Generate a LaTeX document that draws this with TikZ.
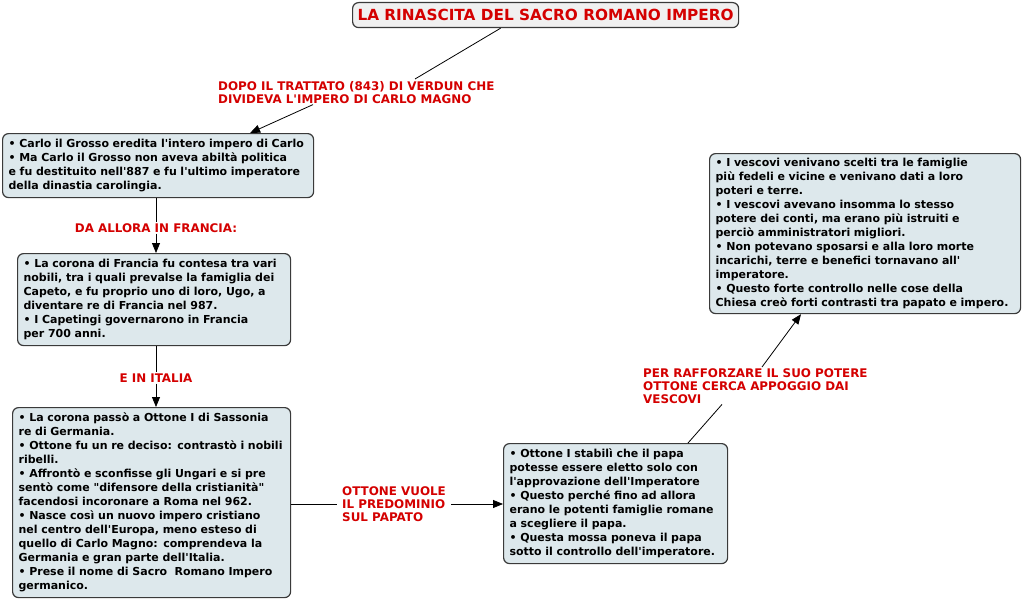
\documentclass[tikz,border=0pt]{standalone}
\usepackage{fontspec}
\setmainfont{DejaVu Sans}[Ligatures=TeXOff]
\usetikzlibrary{arrows.meta,calc}
\definecolor{boxfill}{HTML}{DDE8EC}
\definecolor{boxline}{HTML}{3A3A3A}
\definecolor{labred}{HTML}{D40000}
\tikzset{
  cbox/.style={draw=boxline, line width=1.2pt, fill=boxfill, rounded corners=6pt,
    anchor=north west, align=left, inner xsep=6pt, inner ysep=3pt,
    font=\bfseries\fontsize{11}{14}\selectfont},
  lab/.style={text=labred, align=left, inner sep=1pt,
    font=\bfseries\fontsize{11.9}{13}\selectfont},
  conn/.style={draw=black, line width=0.8pt},
  arr/.style={conn, -{Triangle[length=10pt,width=8pt]}}
}
\begin{document}
\begin{tikzpicture}[x=1pt,y=-1pt]
\useasboundingbox (0,0) rectangle (1024,599);
\fill[white] (0,0) rectangle (1024,599);

\node[draw=boxline, line width=1.2pt, fill=black!6, rounded corners=6pt, anchor=north west,
  minimum width=386pt, minimum height=25pt, text=labred,
  font=\bfseries\fontsize{15.3}{16}\selectfont] (title) at (352,2) {LA RINASCITA DEL SACRO ROMANO IMPERO};

\node[lab, anchor=north west] (l1) at (217,80) {DOPO IL TRATTATO (843) DI VERDUN CHE\\DIVIDEVA L'IMPERO DI CARLO MAGNO};

\node[cbox, text width=299pt, minimum height=64pt] (b1) at (2,133)
{• Carlo il Grosso eredita l'intero impero di Carlo\\
• Ma Carlo il Grosso non aveva abiltà politica\\
e fu destituito nell'887 e fu l'ultimo imperatore\\
della dinastia carolingia.};

\node[lab, anchor=center] (l2) at (156,228) {DA ALLORA IN FRANCIA:};

\node[cbox, text width=261pt, minimum height=92pt] (b2) at (17,253)
{• La corona di Francia fu contesa tra vari\\
nobili, tra i quali prevalse la famiglia dei\\
Capeto, e fu proprio uno di loro, Ugo, a\\
diventare re di Francia nel 987.\\
• I Capetingi governarono in Francia\\
per 700 anni.};

\node[lab, anchor=center] (l3) at (156,378) {E IN ITALIA};

\node[cbox, text width=266pt, minimum height=190pt] (b3) at (12,407)
{• La corona passò a Ottone I di Sassonia\\
re di Germania.\\
• Ottone fu un re deciso: contrastò i nobili\\
ribelli.\\
• Affrontò e sconfisse gli Ungari e si pre\\
sentò come "difensore della cristianità"\\
facendosi incoronare a Roma nel 962.\\
• Nasce così un nuovo impero cristiano\\
nel centro dell'Europa, meno esteso di\\
quello di Carlo Magno: comprendeva la\\
Germania e gran parte dell'Italia.\\
• Prese il nome di Sacro\ \ Romano Impero\\
germanico.};

\node[lab, anchor=west, inner xsep=5pt] (l4) at (337,504) {OTTONE VUOLE\\IL PREDOMINIO\\SUL PAPATO};

\node[cbox, text width=212pt, minimum height=120pt] (b4) at (503,443)
{• Ottone I stabilì che il papa\\
potesse essere eletto solo con\\
l'approvazione dell'Imperatore\\
• Questo perché fino ad allora\\
erano le potenti famiglie romane\\
a scegliere il papa.\\
• Questa mossa poneva il papa\\
sotto il controllo dell'imperatore.};

\node[lab, anchor=north west] (l5) at (642,367) {PER RAFFORZARE IL SUO POTERE\\OTTONE CERCA APPOGGIO DAI\\VESCOVI};

\node[cbox, text width=299pt, minimum height=160pt] (b5) at (709,153)
{• I vescovi venivano scelti tra le famiglie\\
più fedeli e vicine e venivano dati a loro\\
poteri e terre.\\
• I vescovi avevano insomma lo stesso\\
potere dei conti, ma erano più istruiti e\\
perciò amministratori migliori.\\
• Non potevano sposarsi e alla loro morte\\
incarichi, terre e benefici tornavano all'\\
imperatore.\\
• Questo forte controllo nelle cose della\\
Chiesa creò forti contrasti tra papato e impero.};

% connectors
\draw[conn] ([xshift=-45pt]title.south) -- ([xshift=198pt,yshift=1pt]l1.north west);
\draw[arr] ([xshift=96pt]l1.south west) -- ([xshift=92pt]b1.north);
\draw[conn] (l2.north |- b1.south) -- (l2.north);
\draw[arr] (l2.south) -- (l2.south |- b2.north);
\draw[conn] (l3.north |- b2.south) -- (l3.north);
\draw[arr] (l3.south) -- (l3.south |- b3.north);
\draw[conn] (b3.east |- l4.west) -- (l4.west);
\draw[arr] (l4.east) -- (b4.west |- l4.east);
\draw[conn] ([xshift=185pt]b4.north west) -- ([xshift=80pt]l5.south west);
\draw[arr] ([xshift=120pt]l5.north west) -- ([xshift=92pt]b5.south west);
\end{tikzpicture}
\end{document}
